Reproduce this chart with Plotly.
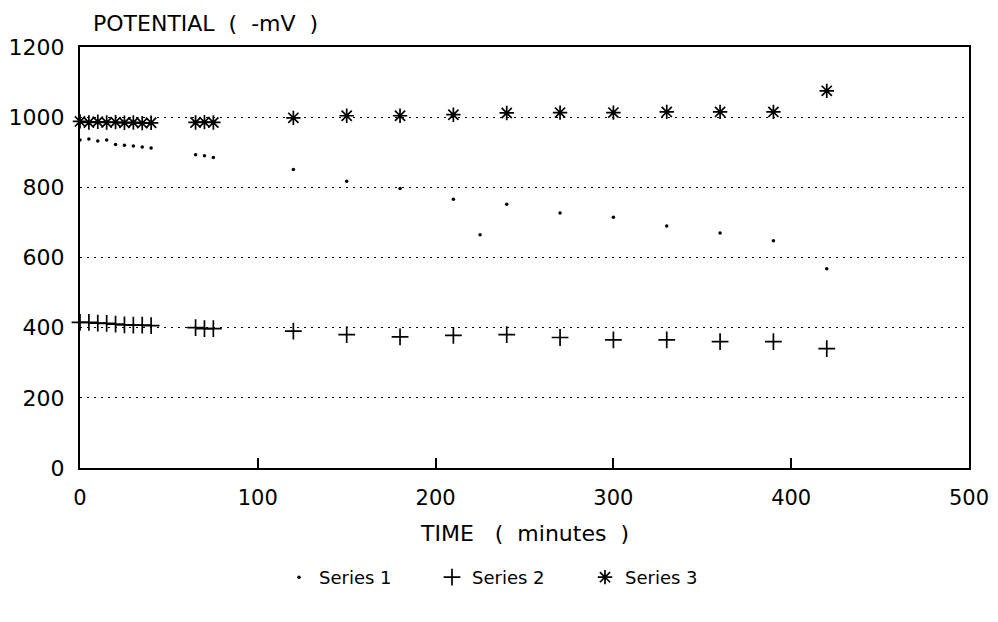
import plotly.graph_objects as go

time_min = [0, 5, 10, 15, 20, 25, 30, 35, 40, 65, 70, 75, 120, 150, 180, 210, 225, 240, 270, 300, 330, 360, 390, 420]
series1 = [935, 938, 932, 935, 922, 920, 918, 915, 912, 893, 890, 885, 851, 817, 797, 766, 665, 752, 727, 715, 690, 670, 648, 568]
series2 = [415, 415, 413, 412, 410, 408, 407, 407, 406, 400, 397, 397, 390, 380, 374, 378, None, 380, 372, 365, 365, 360, 360, 340]
series3 = [988, 985, 987, 985, 986, 984, 985, 983, 984, 985, 986, 985, 998, 1004, 1004, 1007, None, 1012, 1013, 1013, 1015, 1015, 1015, 1075]
series_names = ["Series 1", "Series 2", "Series 3"]

FONT = "DejaVu Sans, Liberation Sans, Arial, sans-serif"

fig = go.Figure()
fig.add_trace(go.Scatter(x=time_min, y=series1, mode="markers", name=series_names[0],
                         marker=dict(symbol="circle", size=3.5, color="black"), cliponaxis=False))
fig.add_trace(go.Scatter(x=time_min, y=series2, mode="markers", name=series_names[1],
                         marker=dict(symbol="cross-thin", size=12, color="black",
                                     line=dict(width=1.7, color="black")), cliponaxis=False))
fig.add_trace(go.Scatter(x=time_min, y=series3, mode="markers", name=series_names[2],
                         marker=dict(symbol="asterisk", size=12, color="black",
                                     line=dict(width=1.7, color="black")), cliponaxis=False))

fig.update_layout(
    width=998, height=622,
    margin=dict(l=80, r=29, t=47, b=154, autoexpand=False),
    paper_bgcolor="white", plot_bgcolor="white",
    font=dict(family=FONT, size=18, color="black"),
    showlegend=True,
    legend=dict(orientation="h", x=0.482, xanchor="center", y=-0.216, yanchor="top",
                font=dict(size=18), itemwidth=30, entrywidth=108, entrywidthmode="pixels",
                tracegroupgap=0),
    annotations=[
        dict(text="POTENTIAL  (  -mV  )", x=0.0, xref="paper", y=1.0, yref="paper",
             xanchor="left", yanchor="bottom", yshift=9, xshift=11, showarrow=False,
             font=dict(size=22)),
        dict(text="TIME   (  minutes  )", x=0.5, xref="paper", y=0, yref="paper",
             xanchor="center", yanchor="top", yshift=-51, showarrow=False,
             font=dict(size=22)),
    ],
)

fig.update_xaxes(range=[0, 500], dtick=100, tick0=0, showgrid=False, zeroline=False,
                 showline=True, linecolor="black", linewidth=2, mirror=True,
                 ticks="inside", ticklen=10, tickcolor="black", tickwidth=1.5,
                 ticklabelstandoff=10, tickfont=dict(size=21), automargin=False)
fig.update_yaxes(range=[0, 1200], dtick=200, tick0=0, showgrid=True, griddash="2px,5px",
                 gridcolor="black", gridwidth=1.2, zeroline=False,
                 showline=True, linecolor="black", linewidth=2, mirror=True,
                 ticks="", ticklabelstandoff=9, tickfont=dict(size=22), automargin=False)

# remove the default 8px page margin so the 998x622 figure fills the window exactly
fig.write_html("out.html", config={"displayModeBar": False},
               post_script="document.body.style.margin='0';")
